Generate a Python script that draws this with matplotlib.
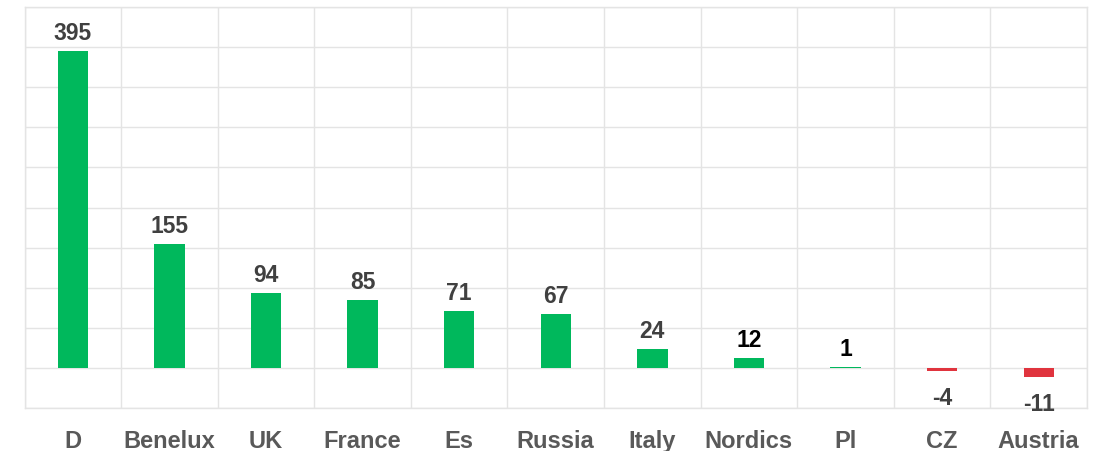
import matplotlib
matplotlib.use("Agg")
import matplotlib.pyplot as plt
import numpy as np

categories = ["D", "Benelux", "UK", "France", "Es", "Russia", "Italy", "Nordics", "Pl", "CZ", "Austria"]
values = [395, 155, 94, 85, 71, 67, 24, 12, 1, -4, -11]
label_colors = ["#404040"] * 7 + ["#000000", "#000000", "#404040", "#404040"]

plt.rcParams['font.family'] = ['Liberation Sans', 'DejaVu Sans']

fig = plt.figure(figsize=(10.99, 4.52), dpi=100)
ax = fig.add_axes([24.5/1099, 43/452, (1087-24.5)/1099, 401/452])

x = np.arange(len(categories))
colors = ["#00b85c" if v >= 0 else "#e0343e" for v in values]
ax.bar(x, values, width=0.314, color=colors, zorder=3)

for xi, v, c in zip(x, values, label_colors):
    if v >= 0:
        ax.annotate(str(v), (xi, v), xytext=(0, 5), textcoords="offset points",
                    ha="center", va="bottom", fontsize=16.5, fontweight="bold", color=c)
    else:
        ax.annotate(str(v), (xi, v), xytext=(0, -11), textcoords="offset points",
                    ha="center", va="top", fontsize=16.5, fontweight="bold", color=c)

ax.set_xlim(-0.5, len(categories) - 0.5)
ax.set_ylim(-50, 450)
ax.set_yticks(np.arange(-50, 451, 50))
ax.set_yticklabels([])
ax.set_xticks(np.arange(-0.5, len(categories), 1.0), minor=False)
ax.set_xticklabels([])
ax.set_xticks(x, minor=True)
ax.set_xticklabels(categories, minor=True, fontsize=17, fontweight="bold", color="#595959")
ax.tick_params(axis="both", which="both", length=0)
ax.tick_params(axis="x", which="minor", pad=15)
ax.grid(True, which="major", color="#e4e4e4", linewidth=1, zorder=0)
for s in ax.spines.values():
    s.set_color("#e4e4e4")
    s.set_linewidth(1)

fig.savefig("out.png", dpi=100)
